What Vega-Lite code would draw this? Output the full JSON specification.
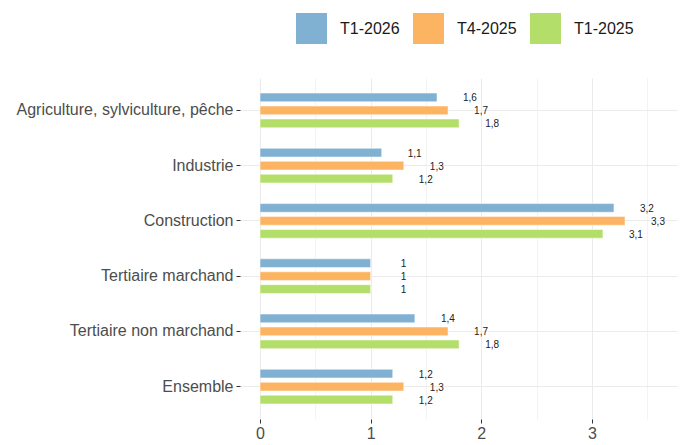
{
  "$schema": "https://vega.github.io/schema/vega-lite/v6.json",
  "width": 437,
  "height": 341,
  "autosize": "none",
  "padding": {"left": 240, "top": 78, "right": 6, "bottom": 26},
  "background": "white",
  "config": {"view": {"stroke": null}, "font": "Liberation Sans"},
  "data": {
    "values": [
      {"secteur": "Agriculture, sylviculture, pêche", "periode": "T1-2026", "valeur": 1.6, "label": "1,6"},
      {"secteur": "Agriculture, sylviculture, pêche", "periode": "T4-2025", "valeur": 1.7, "label": "1,7"},
      {"secteur": "Agriculture, sylviculture, pêche", "periode": "T1-2025", "valeur": 1.8, "label": "1,8"},
      {"secteur": "Industrie", "periode": "T1-2026", "valeur": 1.1, "label": "1,1"},
      {"secteur": "Industrie", "periode": "T4-2025", "valeur": 1.3, "label": "1,3"},
      {"secteur": "Industrie", "periode": "T1-2025", "valeur": 1.2, "label": "1,2"},
      {"secteur": "Construction", "periode": "T1-2026", "valeur": 3.2, "label": "3,2"},
      {"secteur": "Construction", "periode": "T4-2025", "valeur": 3.3, "label": "3,3"},
      {"secteur": "Construction", "periode": "T1-2025", "valeur": 3.1, "label": "3,1"},
      {"secteur": "Tertiaire marchand", "periode": "T1-2026", "valeur": 1.0, "label": "1"},
      {"secteur": "Tertiaire marchand", "periode": "T4-2025", "valeur": 1.0, "label": "1"},
      {"secteur": "Tertiaire marchand", "periode": "T1-2025", "valeur": 1.0, "label": "1"},
      {"secteur": "Tertiaire non marchand", "periode": "T1-2026", "valeur": 1.4, "label": "1,4"},
      {"secteur": "Tertiaire non marchand", "periode": "T4-2025", "valeur": 1.7, "label": "1,7"},
      {"secteur": "Tertiaire non marchand", "periode": "T1-2025", "valeur": 1.8, "label": "1,8"},
      {"secteur": "Ensemble", "periode": "T1-2026", "valeur": 1.2, "label": "1,2"},
      {"secteur": "Ensemble", "periode": "T4-2025", "valeur": 1.3, "label": "1,3"},
      {"secteur": "Ensemble", "periode": "T1-2025", "valeur": 1.2, "label": "1,2"}
    ]
  },
  "encoding": {
    "y": {
      "field": "secteur",
      "type": "nominal",
      "sort": null,
      "scale": {"paddingInner": 0.296, "paddingOuter": 0.2345},
      "axis": {
        "title": null,
        "bandPosition": 0.5,
        "domain": false,
        "grid": true,
        "gridColor": "#EBEBEB",
        "gridWidth": 1,
        "ticks": true,
        "tickColor": "#333333",
        "tickSize": 4,
        "tickWidth": 1,
        "labelFontSize": 16,
        "labelColor": "#4D4D4D",
        "labelPadding": 3,
        "labelLimit": 300
      }
    },
    "yOffset": {
      "field": "periode",
      "type": "nominal",
      "scale": {"domain": ["T1-2026", "T4-2025", "T1-2025"], "paddingInner": 0.33, "paddingOuter": 0.165}
    }
  },
  "layer": [
    {
      "mark": {"type": "bar", "stroke": "white", "strokeWidth": 0.5},
      "encoding": {
        "x": {
          "field": "valeur",
          "type": "quantitative",
          "scale": {"domain": [-0.181, 3.77], "nice": false, "zero": false},
          "axis": {
            "title": null,
            "values": [0, 0.5, 1, 1.5, 2, 2.5, 3, 3.5],
            "labelExpr": "datum.value % 1 === 0 ? format(datum.value, 'd') : ''",
            "domain": false,
            "grid": true,
            "gridColor": "#EBEBEB",
            "gridWidth": {"condition": {"test": "datum.value % 1 === 0", "value": 1}, "value": 0.6},
            "tickColor": "#333333",
            "tickOpacity": {"condition": {"test": "datum.value % 1 === 0", "value": 1}, "value": 0},
            "tickSize": 4,
            "tickWidth": 1,
            "labelFontSize": 16,
            "labelColor": "#4D4D4D",
            "labelPadding": 2
          }
        },
        "color": {
          "field": "periode",
          "type": "nominal",
          "scale": {"domain": ["T1-2026", "T4-2025", "T1-2025"], "range": ["#80B1D3", "#FDB462", "#B3DE69"]},
          "legend": {
            "orient": "none",
            "legendX": 56,
            "legendY": -65,
            "direction": "horizontal",
            "title": null,
            "symbolType": "square",
            "symbolSize": 961,
            "symbolStrokeWidth": 0,
            "symbolOpacity": 1,
            "labelFontSize": 16,
            "labelColor": "#1A1A1A",
            "labelOffset": 13,
            "columnPadding": 13,
            "padding": 0
          }
        }
      }
    },
    {
      "mark": {"type": "text", "dx": 33, "dy": 1, "fontSize": 10, "color": "#222222", "align": "center", "baseline": "middle"},
      "encoding": {
        "x": {"field": "valeur", "type": "quantitative"},
        "text": {"field": "label"}
      }
    }
  ]
}
